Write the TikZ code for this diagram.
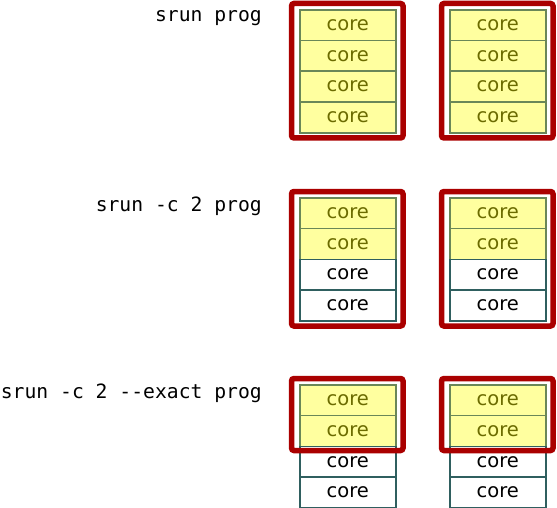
\documentclass[tikz,border=0pt]{standalone}
\usepackage{fontspec}
\setmainfont{DejaVu Sans}
\setmonofont{DejaVu Sans Mono}
\definecolor{redbox}{HTML}{AA0000}
\definecolor{yfill}{HTML}{FFFF9F}
\definecolor{ytext}{HTML}{6B6B00}
\definecolor{yedge}{HTML}{6A8758}
\definecolor{wedge}{HTML}{2F5F5F}
\tikzset{
  cellbase/.style={line width=1.6pt, minimum width=96pt, minimum height=30.75pt, inner sep=0pt, anchor=north west, font=\fontsize{19.5}{19.5}\selectfont},
  ycore/.style={cellbase, draw=yedge, fill=yfill, text=ytext},
  wcore/.style={cellbase, draw=wedge, fill=white, text=black},
  alloc/.style={draw=redbox, line width=5.5pt, rounded corners=2.5pt},
  cmd/.style={anchor=base east, font=\ttfamily\fontsize{19.7}{19.7}\selectfont, inner sep=0pt}
}
\begin{document}
\begin{tikzpicture}[x=1pt,y=-1pt]
\useasboundingbox (0,0) rectangle (557,508);
% labels
\node[cmd] (l1) at (262,21.5) {srun prog};
\node[cmd] (l2) at (262,211.5) {srun -c 2 prog};
\node[cmd] (l3) at (262,398) {srun -c 2 --exact prog};
% row 1
\foreach \cx/\nm in {299/a,449/b}{
  \node[ycore] (r1\nm1) at (\cx,9) {core};
  \node[ycore] (r1\nm2) at (\cx,39.75) {core};
  \node[ycore] (r1\nm3) at (\cx,70.5) {core};
  \node[ycore] (r1\nm4) at (\cx,101.25) {core};
}
\draw[alloc] (291.5,3.5) rectangle (403,138);
\draw[alloc] (441.5,3.5) rectangle (553,138);
% row 2
\foreach \cx/\nm in {299/a,449/b}{
  \node[ycore] (r2\nm1) at (\cx,197) {core};
  \node[ycore] (r2\nm2) at (\cx,227.75) {core};
  \node[wcore] (r2\nm3) at (\cx,258.5) {core};
  \node[wcore] (r2\nm4) at (\cx,289.25) {core};
}
\draw[alloc] (291.5,191.5) rectangle (403,326);
\draw[alloc] (441.5,191.5) rectangle (553,326);
% row 3
\foreach \cx/\nm in {299/a,449/b}{
  \node[ycore] (r3\nm1) at (\cx,384) {core};
  \node[ycore] (r3\nm2) at (\cx,414.75) {core};
  \node[wcore] (r3\nm3) at (\cx,445.5) {core};
  \node[wcore] (r3\nm4) at (\cx,476.25) {core};
}
\draw[alloc] (291.5,378.5) rectangle (403,450.5);
\draw[alloc] (441.5,378.5) rectangle (553,450.5);
\end{tikzpicture}
\end{document}
